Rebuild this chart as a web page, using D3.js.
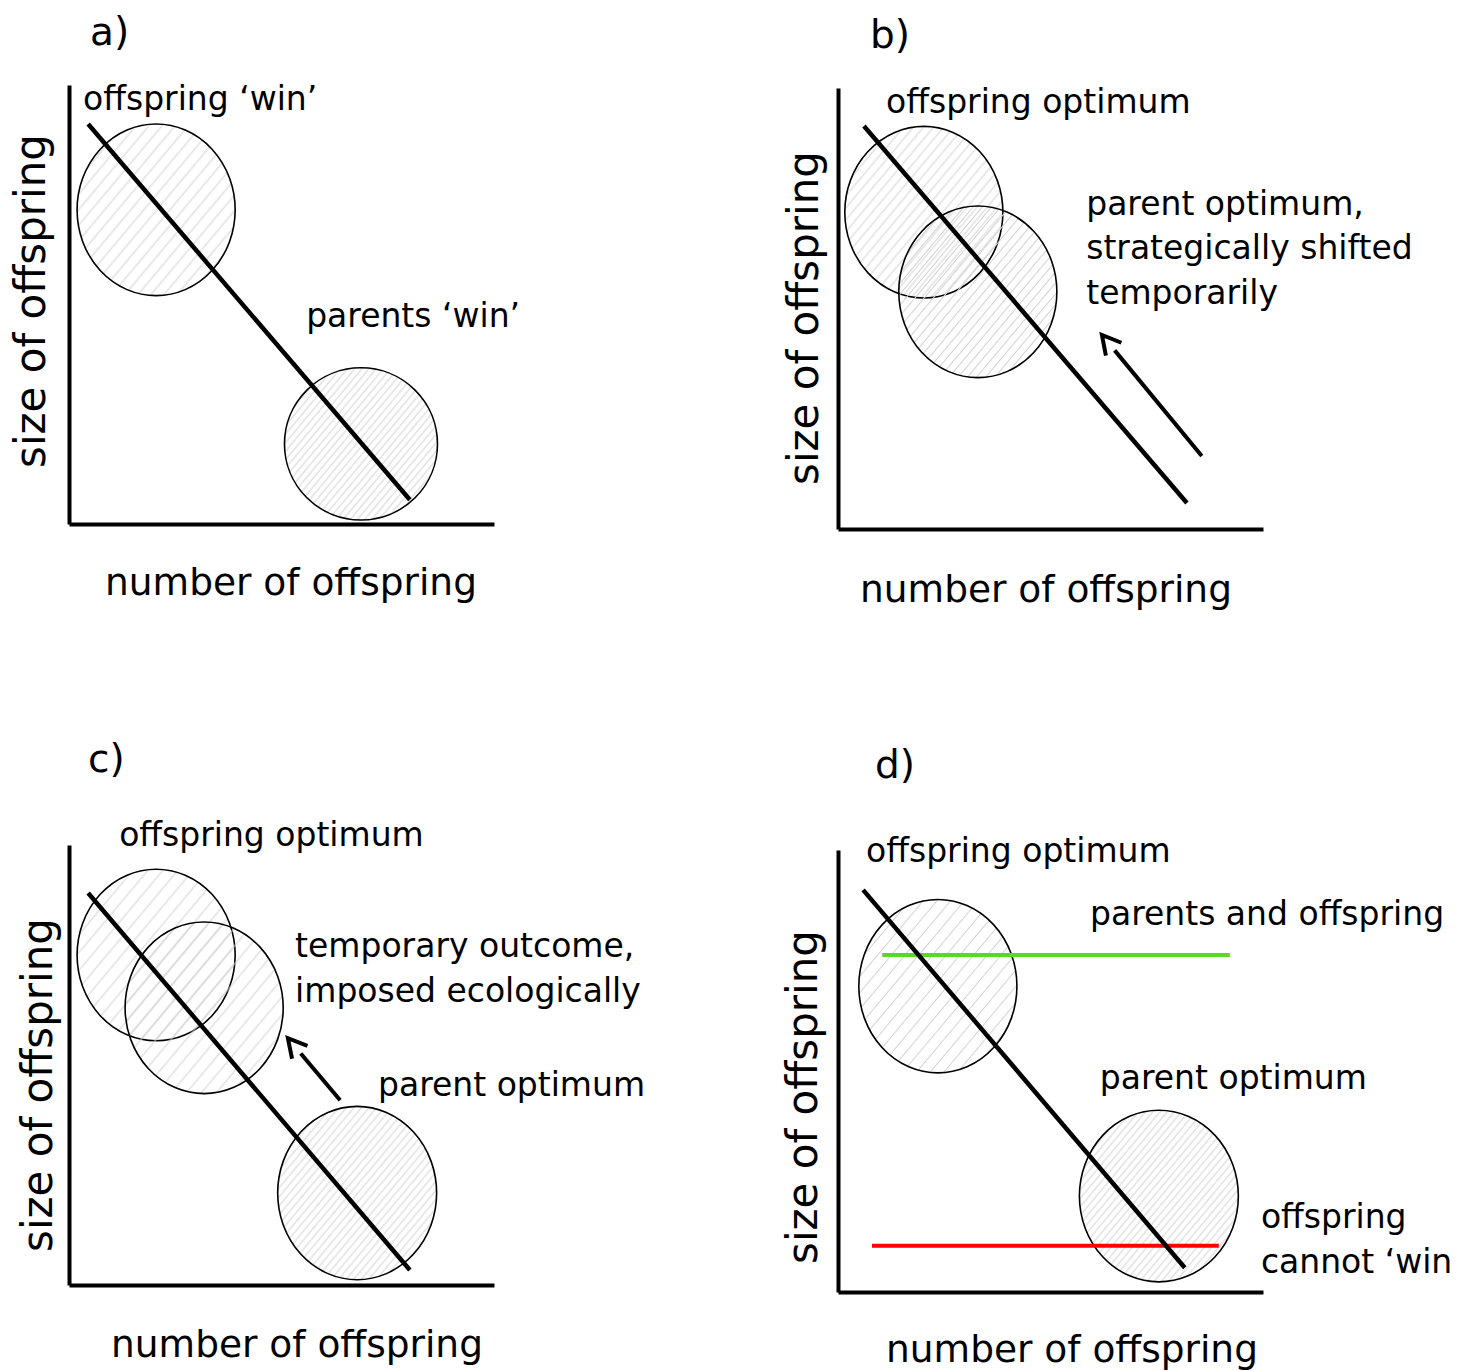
<!DOCTYPE html>
<html>
<head>
<meta charset="utf-8">
<script src="https://cdn.jsdelivr.net/npm/d3@7"></script>
<style>
  html, body { margin: 0; padding: 0; background: #fff; }
  svg { display: block; font-family: "DejaVu Sans", sans-serif; }
</style>
</head>
<body>
<script>
// ---------- data (diagram units: 0..100 on each axis) ----------
const panelIds = ["a", "b", "c", "d"];
const panelTitles = ["a)", "b)", "c)", "d)"];
const xAxisTitle = "number of offspring";
const yAxisTitle = "size of offspring";

// trade-off line per panel: [x1, y1, x2, y2]
const tradeoffLines = [
  [4.5, 90.9, 80.2, 5.5],
  [6.1, 91.6, 82.1, 5.9],
  [4.5, 89.1, 80.2, 3.4],
  [5.9, 91.4, 81.6, 5.5]
];

// optimum regions: panel, cx, cy, rx, ry
const regionPanel = ["a", "a", "b", "b", "c", "c", "c", "d", "d"];
const regionCx    = [20.5, 68.7, 20.2, 32.9, 20.5, 31.8, 67.8, 23.5, 75.5];
const regionCy    = [71.4, 18.2, 72.0, 53.9, 75.0, 63.0, 20.9, 69.5, 21.8];
const regionRx    = [18.6, 18.0, 18.6, 18.6, 18.6, 18.6, 18.7, 18.6, 18.7];
const regionRy    = [19.5, 17.3, 19.5, 19.5, 19.5, 19.5, 19.7, 19.7, 19.5];

// shift arrows: panel, from (x,y) to tip (x,y)
const arrowPanel = ["b", "c"];
const arrowFrom  = [[85.6, 16.6], [63.8, 42.0]];
const arrowTo    = [[62.1, 44.1], [51.5, 56.1]];

// horizontal reference lines (panel d): y, x1, x2, colour key
const refLineY  = [76.6, 10.5];
const refLineX1 = [10.4, 8.0];
const refLineX2 = [92.2, 89.6];
const refLineKind = ["shared", "conflict"];

// annotations: panel, x, y (top line baseline), lines
const notePanel = ["a", "a", "b", "b", "c", "c", "c", "d", "d", "d", "d"];
const noteX = [3.3, 55.8, 11.3, 58.4, 11.8, 53.2, 72.7, 6.6, 59.3, 61.6, 99.5];
const noteY = [94.1, 44.8, 94.5, 71.4, 99.8, 74.5, 43.0, 97.7, 83.4, 46.1, 14.5];
const noteText = [
  ["offspring \u2018win\u2019"],
  ["parents \u2018win\u2019"],
  ["offspring optimum"],
  ["parent optimum,", "strategically shifted", "temporarily"],
  ["offspring optimum"],
  ["temporary outcome,", "imposed ecologically"],
  ["parent optimum"],
  ["offspring optimum"],
  ["parents and offspring"],
  ["parent optimum"],
  ["offspring", "cannot \u2018win"]
];

// ---------- layout / style ----------
const W = 1468, H = 1371;
const panelLayout = {
  a: { ox: 69,  oy: 524,  top: 85,  title: [90, 45],  xlab: [291, 595],  ylab: [45, 301] },
  b: { ox: 838, oy: 529,  top: 88,  title: [870, 48], xlab: [1046, 602], ylab: [818, 318] },
  c: { ox: 69,  oy: 1285, top: 845, title: [88, 772], xlab: [297, 1357], ylab: [52, 1085] },
  d: { ox: 838, oy: 1292, top: 850, title: [875, 778], xlab: [1072, 1362], ylab: [817, 1097] }
};
const axisLen = 425;
const hatchSpacing = [10, 5.5, 7.7, 7, 11.5, 11.5, 5.8, 10.5, 5.5];
const refColours = { shared: "#5dd62c", conflict: "#ff0000" };

const svg = d3.select("body").append("svg").attr("width", W).attr("height", H);
const defs = svg.append("defs");

regionPanel.forEach((p, i) => {
  const s = hatchSpacing[i];
  const pat = defs.append("pattern")
    .attr("id", "hatch" + i)
    .attr("patternUnits", "userSpaceOnUse")
    .attr("width", s).attr("height", s)
    .attr("patternTransform", "rotate(40)");
  pat.append("line")
    .attr("x1", s / 2).attr("y1", 0).attr("x2", s / 2).attr("y2", s)
    .attr("stroke", "#d2d2d2").attr("stroke-width", 1);
});

panelIds.forEach((id, pi) => {
  const L = panelLayout[id];
  const x = d3.scaleLinear().domain([0, 100]).range([L.ox, L.ox + axisLen]);
  const y = d3.scaleLinear().domain([0, 100]).range([L.oy, L.oy - 440]);
  const g = svg.append("g").attr("class", "panel-" + id);

  // regions
  regionPanel.forEach((p, i) => {
    if (p !== id) return;
    g.append("ellipse")
      .attr("cx", x(regionCx[i])).attr("cy", y(regionCy[i]))
      .attr("rx", x(regionRx[i]) - x(0)).attr("ry", y(0) - y(regionRy[i]))
      .attr("fill", "url(#hatch" + i + ")")
      .attr("stroke", "#000").attr("stroke-width", 1.6);
  });

  // reference lines
  refLineY.forEach((v, i) => {
    if (id !== "d") return;
    g.append("line")
      .attr("x1", x(refLineX1[i])).attr("x2", x(refLineX2[i]))
      .attr("y1", y(v)).attr("y2", y(v))
      .attr("stroke", refColours[refLineKind[i]]).attr("stroke-width", 4);
  });

  // trade-off line
  const t = tradeoffLines[pi];
  g.append("line")
    .attr("x1", x(t[0])).attr("y1", y(t[1]))
    .attr("x2", x(t[2])).attr("y2", y(t[3]))
    .attr("stroke", "#000").attr("stroke-width", 4.5);

  // arrows
  arrowPanel.forEach((p, i) => {
    if (p !== id) return;
    const x0 = x(arrowFrom[i][0]), y0 = y(arrowFrom[i][1]);
    const x1 = x(arrowTo[i][0]), y1 = y(arrowTo[i][1]);
    const ang = Math.atan2(y1 - y0, x1 - x0);
    const len = Math.hypot(x1 - x0, y1 - y0);
    const gap = 20;
    g.append("line")
      .attr("x1", x0).attr("y1", y0)
      .attr("x2", x0 + Math.cos(ang) * (len - gap)).attr("y2", y0 + Math.sin(ang) * (len - gap))
      .attr("stroke", "#000").attr("stroke-width", 4);
    const hl = 21, ha = 0.5;
    const pts = [
      [x1 - hl * Math.cos(ang - ha), y1 - hl * Math.sin(ang - ha)],
      [x1, y1],
      [x1 - hl * Math.cos(ang + ha), y1 - hl * Math.sin(ang + ha)]
    ];
    g.append("path")
      .attr("d", d3.line()(pts))
      .attr("fill", "none").attr("stroke", "#000").attr("stroke-width", 4)
      .attr("stroke-linejoin", "miter");
  });

  // axes
  const xAxis = d3.axisBottom(x).tickValues([]).tickSizeOuter(0);
  const yAxis = d3.axisLeft(d3.scaleLinear().domain([0, 1]).range([L.oy, L.top])).tickValues([]).tickSizeOuter(0);
  g.append("g").attr("transform", `translate(0,${L.oy})`).call(xAxis)
    .select(".domain").attr("stroke", "#000").attr("stroke-width", 4);
  g.append("g").attr("transform", `translate(${L.ox},0)`).call(yAxis)
    .select(".domain").attr("stroke", "#000").attr("stroke-width", 4);

  // titles
  g.append("text").attr("x", L.title[0]).attr("y", L.title[1])
    .attr("font-size", 39).text(panelTitles[pi]);
  g.append("text").attr("x", L.xlab[0]).attr("y", L.xlab[1])
    .attr("text-anchor", "middle").attr("font-size", 37.5).text(xAxisTitle);
  g.append("text")
    .attr("transform", `translate(${L.ylab[0]},${L.ylab[1]}) rotate(-90)`)
    .attr("text-anchor", "middle").attr("font-size", 42).text(yAxisTitle);

  // notes
  notePanel.forEach((p, i) => {
    if (p !== id) return;
    const txt = g.append("text").attr("x", x(noteX[i])).attr("y", y(noteY[i]))
      .attr("font-size", 33);
    noteText[i].forEach((line, k) => {
      txt.append("tspan").attr("x", x(noteX[i])).attr("dy", k === 0 ? 0 : 44.5).text(line);
    });
  });
});
</script>
</body>
</html>
